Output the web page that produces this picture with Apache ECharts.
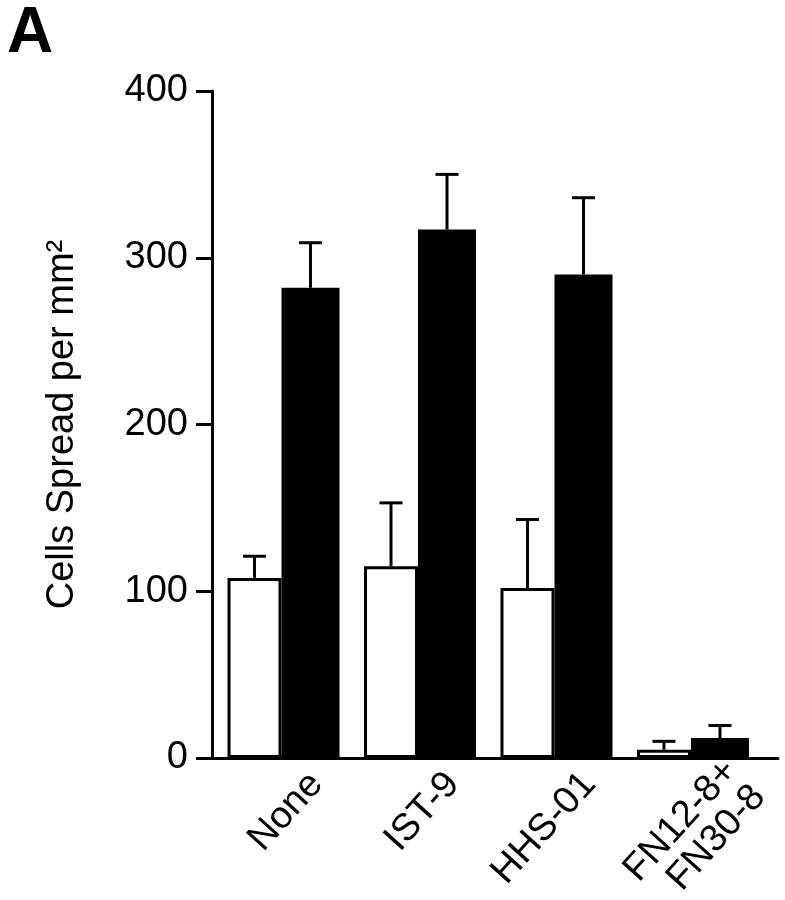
<!DOCTYPE html>
<html>
<head>
<meta charset="utf-8">
<script src="https://cdn.jsdelivr.net/npm/echarts@6/dist/echarts.min.js"></script>
<style>html,body{margin:0;padding:0;background:#fff}#c{width:785px;height:900px}</style>
</head>
<body>
<div id="c"></div>
<script>
const categories = ['None', 'IST-9', 'HHS-01', 'FN12-8+\nFN30-8'];
const whiteValues = [108, 115, 102, 5];
const whiteErrTop = [121, 153, 143, 10];
const blackValues = [282, 317, 290, 12];
const blackErrTop = [309, 350, 336, 19.5];
const yTicks = [0, 100, 200, 300, 400];

const FONT = '"Liberation Sans", Arial, Helvetica, sans-serif';
const W_WHITE = 54, W_BLACK = 58;
const offWhite = -(W_WHITE + W_BLACK) / 2 + W_WHITE / 2;
const offBlack = -(W_WHITE + W_BLACK) / 2 + W_WHITE + W_BLACK / 2;
// label anchor offsets (axis units) for the rotated category labels
const labelShift = [0.24, 0.24, 0.24, 0.38];
const labelPos = categories.map((c, i) => i + labelShift[i]);

function errSeries(vals, tops, off) {
  return {
    type: 'custom',
    z: 5,
    encode: { x: 0, y: [1, 2] },
    data: categories.map((c, i) => [i, vals[i], tops[i]]),
    renderItem: function (params, api) {
      const x = api.value(0);
      const p0 = api.coord([x, api.value(1)]);
      const p1 = api.coord([x, api.value(2)]);
      const cx = p0[0] + off;
      const st = { stroke: '#000', lineWidth: 3 };
      return {
        type: 'group',
        children: [
          { type: 'line', shape: { x1: cx, y1: p0[1], x2: cx, y2: p1[1] }, style: st },
          { type: 'line', shape: { x1: cx - 11.5, y1: p1[1], x2: cx + 11.5, y2: p1[1] }, style: st }
        ]
      };
    }
  };
}

const chart = echarts.init(document.getElementById('c'), null, { renderer: 'canvas' });
chart.setOption({
  animation: false,
  backgroundColor: '#fff',
  title: {
    text: 'A', left: 2, top: -3,
    textStyle: { fontSize: 64, fontWeight: 'bold', color: '#000', fontFamily: FONT }
  },
  grid: { left: 212, top: 91, right: 7, bottom: 142, containLabel: false, outerBoundsMode: 'none' },
  xAxis: {
    type: 'value',
    min: -0.524, max: 3.623,
    splitLine: { show: false },
    axisTick: { show: false },
    axisLine: { show: true, onZero: true, lineStyle: { color: '#000', width: 3 } },
    axisLabel: {
      customValues: labelPos,
      formatter: function (v) {
        const i = labelPos.findIndex(p => Math.abs(p - v) < 1e-6);
        return i >= 0 ? categories[i] : '';
      },
      rotate: 48, margin: 20, fontSize: 38, color: '#000', fontFamily: FONT,
      lineHeight: 38, showMinLabel: true, showMaxLabel: true, hideOverlap: false
    }
  },
  yAxis: {
    type: 'value', min: 0, max: 400, interval: 100,
    name: 'Cells Spread per mm²', nameLocation: 'middle', nameGap: 130,
    nameTextStyle: { fontSize: 38, color: '#000', fontFamily: FONT },
    splitLine: { show: false },
    axisLine: { show: true, onZero: false, lineStyle: { color: '#000', width: 3 } },
    axisTick: { show: true, length: 16, lineStyle: { color: '#000', width: 3 } },
    axisLabel: {
      fontSize: 38, color: '#000', margin: 24, fontFamily: FONT,
      customValues: yTicks
    }
  },
  series: [
    {
      type: 'bar', name: 'white', barWidth: W_WHITE, barGap: '0%',
      data: categories.map((c, i) => [i, whiteValues[i]]),
      itemStyle: { color: '#fff', borderColor: '#000', borderWidth: 3 }
    },
    {
      type: 'bar', name: 'black', barWidth: W_BLACK, barGap: '0%',
      data: categories.map((c, i) => [i, blackValues[i]]),
      itemStyle: { color: '#000' }
    },
    errSeries(whiteValues, whiteErrTop, offWhite),
    errSeries(blackValues, blackErrTop, offBlack)
  ]
});
</script>
</body>
</html>
